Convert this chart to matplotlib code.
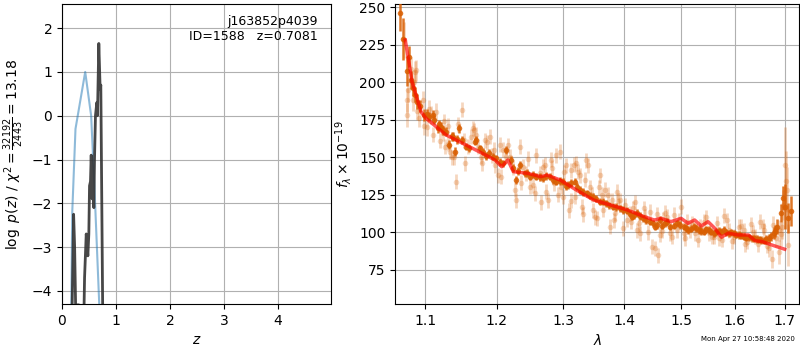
import numpy as np
import matplotlib
matplotlib.use("Agg")
import matplotlib.pyplot as plt

# --- p(z) panel ---
z_prior = [0.17, 0.19, 0.25, 0.43, 0.54, 0.60, 0.69, 0.72]
lnp_prior = [-4.6, -2.2, -0.3, 1.0, 0.0, -1.6, -4.3, -5.0]

z_grid = [0.185, 0.215, 0.234, 0.252, 0.313, 0.330, 0.405, 0.418, 0.449, 0.479,
          0.497, 0.510, 0.528, 0.541, 0.559, 0.571, 0.590, 0.602, 0.620, 0.645,
          0.657, 0.682, 0.707, 0.719, 0.755]
lnp_chi2 = [-4.6, -2.25, -3.0, -4.32, -4.32, -5.0, -4.6, -3.7, -2.7, -3.2,
            -2.7, -1.6, -1.5, -0.9, -1.9, -1.5, -2.1, -1.0, 0.0, 0.3,
            0.0, 1.65, 0.6, 0.7, -4.6]

# --- spectrum panel: combined (dark) points ---
wave_bin = [1.0675, 1.0714, 1.0758, 1.0792, 1.081, 1.0835, 1.087, 1.090, 1.093, 1.099,
            1.1058, 1.110, 1.117, 1.1215, 1.128, 1.133, 1.1375, 1.141, 1.1467, 1.151,
            1.1562, 1.168, 1.170, 1.1797, 1.189, 1.199, 1.2088, 1.2137, 1.221, 1.228,
            1.234, 1.241, 1.2485, 1.2587, 1.269, 1.279, 1.2896, 1.300, 1.308, 1.3186,
            1.327, 1.3375, 1.348, 1.359, 1.370, 1.3815, 1.3927, 1.404, 1.4126, 1.4212,
            1.4327, 1.4444, 1.453, 1.462, 1.471, 1.480, 1.492, 1.504, 1.513, 1.5225,
            1.532, 1.541, 1.5505, 1.5599, 1.5694, 1.579, 1.5885, 1.598, 1.608, 1.6177,
            1.6276, 1.6375, 1.6475, 1.6575, 1.6676, 1.6778, 1.6846, 1.6914, 1.697, 1.6997,
            1.7066, 1.7121,
            1.1025, 1.1125, 1.119, 1.1245, 1.136, 1.144, 1.1595, 1.175, 1.184, 1.194,
            1.204, 1.2235, 1.2305, 1.2445, 1.253, 1.264, 1.274, 1.284, 1.295, 1.304,
            1.313, 1.3225, 1.332, 1.343, 1.353, 1.364, 1.375, 1.386, 1.398, 1.409,
            1.417, 1.427, 1.438, 1.449, 1.457, 1.466, 1.475, 1.486, 1.498, 1.508,
            1.518, 1.527, 1.537, 1.546, 1.555, 1.565, 1.574, 1.584, 1.593, 1.603,
            1.613, 1.623, 1.633, 1.643, 1.652, 1.662, 1.672, 1.681]
flux_bin = [246, 229, 207.5, 217, 201.6, 196, 191.6, 187, 184, 178,
            177, 178.3, 169.4, 170.5, 167.2, 158.3, 163.9, 153.9, 169.4, 161.6,
            157.2, 160.5, 161.6, 153.9, 152.8, 149.4, 146.1, 155, 148.3, 135,
            145, 139.4, 137.2, 137.2, 136.1, 137.2, 133.8, 133.8, 131.6, 133.8,
            128.3, 126, 123.9, 120.5, 119.4, 117.2, 116.1, 114.5, 110.5, 112.8,
            109.4, 107.2, 103.8, 108.3, 106.1, 103.8, 106.1, 103.8, 101.6, 103.8,
            101.6, 100.5, 101.6, 99.4, 101.2, 101.6, 99.4, 99.4, 98.3, 97.2,
            96.7, 96.1, 95.4, 94.6, 96.1, 99.4, 103.8, 112.8, 122.7, 117.2,
            109.4, 114.5,
            179, 175, 172, 168, 164, 162, 156, 156, 151, 150.5,
            147, 143, 141, 139.5, 138.5, 137, 137.5, 135, 134.4, 131,
            133, 130.5, 127, 124.5, 122.5, 120.5, 118, 117, 115, 112.5,
            111.5, 111, 108, 106, 105, 104.5, 107, 104.5, 105, 103,
            102.5, 103, 101, 102, 100.5, 100.2, 100.5, 100, 100, 98.5,
            97.8, 96.5, 96, 95.5, 95, 95.5, 97.5, 101]
err_bin = [12, 14, 10, 7, 6, 5, 5, 5, 4, 4,
           3, 3, 3, 3, 3, 3, 3, 3, 3, 2.5,
           2.5, 2.5, 2.5, 2.5, 2.5, 2.5, 2.5, 2.5, 2.5, 2.5,
           2.5, 2.5, 2.5, 2.5, 2.5, 2.5, 2.5, 2.5, 2.5, 2.5,
           2.5, 2.5, 2.5, 2.5, 2.5, 2.5, 2.5, 2.5, 2.5, 2.5,
           2.5, 2.5, 2.5, 2.5, 2.5, 2.5, 2.5, 2.5, 2.5, 2.5,
           2.5, 2.5, 2.5, 2.5, 2.5, 2.5, 2.5, 2.5, 2.5, 2.5,
           2.5, 2.5, 2.5, 2.5, 3, 4, 5, 6, 8, 15,
           10, 10,
           3, 3, 3, 3, 3, 3, 2.5, 2.5, 2.5, 2.5,
           2.5, 2.5, 2.5, 2.5, 2.5, 2.5, 2.5, 2.5, 2.5, 2.5,
           2.5, 2.5, 2.5, 2.5, 2.5, 2.5, 2.5, 2.5, 2.5, 2.5,
           2.5, 2.5, 2.5, 2.5, 2.5, 2.5, 2.5, 2.5, 2.5, 2.5,
           2.5, 2.5, 2.5, 2.5, 2.5, 2.5, 2.5, 2.5, 2.5, 2.5,
           2.5, 2.5, 2.5, 2.5, 2.5, 3, 3, 4]

# --- spectrum panel: individual (light) points ---
wave_pix = [1.0765, 1.073, 1.081, 1.087, 1.088, 1.0765, 1.0835, 1.090, 1.0968, 1.099,
            1.1058, 1.108, 1.1147, 1.126, 1.1315, 1.1238, 1.131, 1.134, 1.139, 1.142,
            1.150, 1.1538, 1.1585, 1.163, 1.1655, 1.1702, 1.1725, 1.177, 1.1822, 1.1903,
            1.193, 1.1965, 1.2015, 1.2039, 1.2088, 1.2137, 1.2186, 1.226, 1.228, 1.2335,
            1.2385, 1.2435, 1.2485, 1.2536, 1.2587, 1.2638, 1.2689, 1.2741, 1.2766, 1.2818,
            1.2853, 1.2896, 1.295, 1.2975, 1.300, 1.305, 1.309, 1.3133, 1.3186, 1.321,
            1.324, 1.3294, 1.3348, 1.3402, 1.3456, 1.348, 1.3538, 1.3593, 1.362, 1.3676,
            1.3759, 1.3787, 1.3843, 1.3871, 1.3927, 1.3983, 1.404, 1.4097, 1.4155, 1.4212,
            1.427, 1.4356, 1.4444, 1.447, 1.4532, 1.4589, 1.462, 1.468, 1.474, 1.480,
            1.486, 1.492, 1.4995, 1.5041, 1.5102, 1.5164, 1.5255, 1.5348, 1.541, 1.5505,
            1.5599, 1.5694, 1.579, 1.5885, 1.598, 1.608, 1.6177, 1.6243, 1.6323, 1.6408,
            1.6508, 1.6575, 1.6676, 1.6744, 1.6812, 1.6880, 1.6948, 1.6997, 1.7018, 1.7038,
            1.7066, 1.6880,
            1.078, 1.0855, 1.092, 1.103, 1.111, 1.120, 1.127, 1.136, 1.145, 1.155,
            1.167, 1.178, 1.186, 1.196, 1.206, 1.216, 1.224, 1.236, 1.246, 1.256,
            1.266, 1.272, 1.283, 1.292, 1.302, 1.312, 1.317, 1.327, 1.332, 1.337,
            1.343, 1.351, 1.357, 1.365, 1.373, 1.382, 1.390, 1.401, 1.412, 1.418,
            1.425, 1.433, 1.441, 1.456, 1.466, 1.471, 1.483, 1.495, 1.507, 1.520,
            1.530, 1.545, 1.556, 1.566, 1.576, 1.585, 1.595, 1.612, 1.620, 1.636,
            1.646, 1.655, 1.664, 1.677, 1.692, 1.696]
flux_pix = [188, 228, 209, 207, 208, 178, 188, 181, 188, 171,
            182, 178, 180, 174, 171, 166, 159, 153.9, 150, 133.8,
            181.6, 161.6, 157.2, 163.9, 169.4, 165, 157.2, 150.5, 161.6, 163.9,
            151.6, 144.9, 138.2, 158.3, 155, 150.5, 150.5, 128.3, 121.6, 157.2,
            143.8, 139.4, 130.5, 131.6, 151.6, 139.4, 143.8, 127.2, 121.6, 148.3,
            132.7, 151.6, 153.9, 130.5, 123.8, 144.9, 114.9, 141.6, 123.8, 146.1,
            140.5, 117.2, 135, 144.9, 125, 114.9, 109.4, 138.2, 125, 128.3,
            103.8, 121.6, 112.8, 127.2, 121.6, 102.7, 108.3, 112.8, 116.1, 101.6,
            99.4, 110.5, 113.9, 90.5, 89.4, 84.9, 98.3, 108.3, 110.5, 99.4,
            111.7, 101.6, 117.2, 99.4, 107.2, 101.6, 99.4, 103.8, 107.2, 99.4,
            97.2, 96.1, 111, 101.6, 97.2, 103.8, 101.6, 93.9, 105.5, 97.2,
            107.2, 101.6, 89.4, 82.6, 96.1, 101.6, 103.8, 145, 134, 128.3,
            91.6, 87.2,
            195, 200, 176, 170, 165, 161, 157, 150, 172, 146,
            168, 146, 160, 155, 137, 158, 143, 133, 149, 126,
            120, 145, 143, 125, 140, 121, 145, 138, 112, 148,
            130, 110, 130, 115, 125, 108, 121, 118, 107, 120,
            106, 116, 100, 112, 101, 113, 97, 108, 96, 106,
            95, 110, 97, 106, 95, 108, 94, 104, 92, 100,
            92, 104, 91, 105, 99, 118]
err_pix = [8, 12, 8, 7, 7, 8, 7, 6, 6, 6,
           6, 6, 6, 5, 5, 5, 5, 5, 5, 5,
           5, 5, 5, 5, 5, 5, 5, 5, 5, 5,
           5, 5, 5, 5, 5, 5, 5, 5, 5, 5,
           5, 5, 5, 5, 5, 5, 5, 5, 5, 5,
           5, 5, 5, 5, 5, 5, 5, 5, 5, 5,
           5, 5, 5, 5, 5, 5, 5, 5, 5, 5,
           5, 5, 5, 5, 5, 5, 5, 5, 5, 5,
           5, 5, 5, 5, 5, 5, 5, 5, 5, 5,
           5, 5, 5, 5, 5, 5, 5, 5, 5, 5,
           5, 5, 5, 5, 5, 5, 5, 5, 5, 5,
           5, 5, 6, 6, 6, 7, 8, 25, 20, 15,
           14, 8,
           8, 8, 6, 6, 5, 5, 5, 5, 5, 5,
           5, 5, 5, 5, 5, 5, 5, 5, 5, 5,
           5, 5, 5, 5, 5, 5, 5, 5, 5, 5,
           5, 5, 5, 5, 5, 5, 5, 5, 5, 5,
           5, 5, 5, 5, 5, 5, 5, 5, 5, 5,
           5, 5, 5, 5, 5, 5, 5, 5, 5, 5,
           5, 5, 5, 6, 8, 10]

# --- best-fit model ---
wave_model = [1.074, 1.079, 1.0828, 1.0888, 1.0947, 1.1013, 1.1149, 1.1284, 1.1421, 1.1608,
              1.179, 1.197, 1.207, 1.216, 1.224, 1.2452, 1.2653, 1.2754, 1.2957, 1.321,
              1.349, 1.3768, 1.405, 1.434, 1.4516, 1.4634, 1.4814, 1.4996, 1.512, 1.5243,
              1.5367, 1.5492, 1.5619, 1.5746, 1.5875, 1.607, 1.627, 1.640, 1.654, 1.674,
              1.700]
flux_model = [228.2, 212.7, 200.4, 190.4, 180.4, 176, 170.5, 165, 161.6, 157.1,
              152.7, 148.3, 143.8, 148.3, 140.5, 139.4, 137.2, 138.2, 134.9, 128.3,
              121.6, 118.3, 115, 110.5, 108.3, 109.4, 107.2, 109.4, 106.1, 108.3,
              104.3, 107.2, 102.8, 96.8, 99.5, 98.3, 98.3, 94.5, 93.9, 91.6,
              88.8]

wave_ticks = [1.1, 1.2, 1.3, 1.4, 1.5, 1.6, 1.7]
flux_ticks = [75, 100, 125, 150, 175, 200, 225, 250]

orange = "#d95f02"

fig = plt.figure(figsize=(8, 3.5), dpi=100)
ax1 = fig.add_axes([0.0775, 0.1314, 0.336, 0.857])
ax2 = fig.add_axes([0.494, 0.1314, 0.505, 0.857])

# p(z)
ax1.plot(z_prior, lnp_prior, color="tab:blue", alpha=0.5, lw=1.5)
ax1.plot(z_grid, lnp_chi2, color="0.2", alpha=0.9, lw=2)
ax1.set_xlim(0, 4.98)
ax1.set_ylim(-4.3, 2.55)
ax1.set_xticks([0, 1, 2, 3, 4])
ax1.set_yticks([-4, -3, -2, -1, 0, 1, 2])
ax1.set_xlabel("$z$")
ax1.set_ylabel(r"$\log\ p(z)$ / $\chi^2=\frac{32192}{2443}=13.18$")
ax1.grid()
ax1.text(0.95, 0.965, "j163852p4039\nID=1588   z=0.7081", ha="right", va="top",
         transform=ax1.transAxes, fontsize=9)

# spectrum
ax2.errorbar(wave_pix, flux_pix, yerr=err_pix, fmt="o", color=orange, alpha=0.25,
             markersize=4, elinewidth=2, mec="none", capsize=0, zorder=2)
ax2.errorbar(wave_bin, flux_bin, yerr=err_bin, fmt="o", color=orange, alpha=0.85,
             markersize=4, elinewidth=1.8, mec="none", capsize=0, zorder=3)
ax2.plot(wave_model, flux_model, color="r", alpha=0.65, lw=2.5, zorder=4)
ax2.set_xscale("log")
ax2.set_xlim(1.061, 1.73)
ax2.set_ylim(52.3, 252.2)
ax2.set_xticks(wave_ticks)
ax2.set_xticklabels([f"{w:.1f}" for w in wave_ticks])
ax2.minorticks_off()
ax2.set_yticks(flux_ticks)
ax2.set_xlabel(r"$\lambda$")
ax2.set_ylabel(r"$f_\lambda \times 10^{-19}$")
ax2.grid()

fig.text(0.994, 0.022, "Mon Apr 27 10:58:48 2020", ha="right", va="bottom", fontsize=5)

fig.savefig("out.png", dpi=100)
